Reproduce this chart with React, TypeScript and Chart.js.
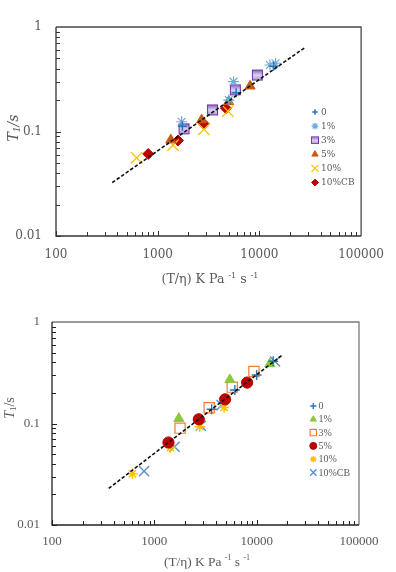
import React, { useEffect, useRef } from 'react';
import { Chart, registerables } from 'chart.js';
import { drawPoint } from 'chart.js/helpers';

Chart.register(...registerables);

const X_TICKS = [100, 1000, 10000, 100000];
const X_TICK_LABELS = ['100', '1000', '10000', '100000'];
const Y_TICKS = [0.01, 0.1, 1];
const Y_TICK_LABELS = ['0.01', '0.1', '1'];
const SERIES_NAMES = ['0', '1%', '3%', '5%', '10%', '10%CB'];

// axis titles: plain / superscript (x) and plain / subscript (y) pieces
const X_TITLE = ['(T/η) K Pa ', '-1', ' s ', '-1'];
const Y_TITLE = ['T', '1', '/s'];

// Upper panel: T1 against T/η
const UP_0 = [[1750, 0.112], [5900, 0.235], [13800, 0.42]];
const UP_1 = [[1720, 0.124], [5000, 0.2], [5570, 0.3], [12700, 0.433], [14400, 0.45]];
const UP_3 = [[1815, 0.106], [3460, 0.161], [5800, 0.25], [9550, 0.347]];
const UP_5 = [[1345, 0.083], [2700, 0.129], [4990, 0.193], [8100, 0.272]];
const UP_10 = [[621, 0.056], [1415, 0.074], [2845, 0.105], [4900, 0.157]];
const UP_10CB = [[807, 0.061], [1585, 0.082], [2845, 0.118], [4690, 0.167]];
const UP_FIT = [[357, 0.0324], [28300, 0.64]];

// Lower panel
const LO_0 = [[3630, 0.138], [6120, 0.214], [10000, 0.3], [14500, 0.41]];
const LO_1 = [[1735, 0.112], [5470, 0.27], [13450, 0.387]];
const LO_3 = [[1785, 0.09], [3435, 0.143], [5770, 0.228], [9400, 0.325]];
const LO_5 = [[1375, 0.065], [2720, 0.11], [4920, 0.173], [8070, 0.253]];
const LO_10 = [[611, 0.032], [1436, 0.058], [2780, 0.093], [4810, 0.144]];
const LO_10CB = [[794, 0.034], [1575, 0.059], [2845, 0.095], [4540, 0.152], [15100, 0.408]];
const LO_FIT = [[358, 0.0229], [17900, 0.475]];

type Marker = { style: any; radius: number; fill: string; stroke: string; width: number };

interface Panel {
  top: number;
  height: number;
  padTop: number;
  padRight: number;
  yAxisWidth: number;
  xAxisHeight: number;
  family: string;
  tickSize: number;
  tickColor: string;
  xTickPad: number;
  yTickPad: number;
  axisColor: string;
  frameColor: string;
  series: number[][][];
  markers: Marker[];
  fit: number[][];
  legend: { x: number; y: number; dy: number; textX: number; size: number; scale: number };
  xTitle: { x: number; y: number; size: number };
  yTitle: { x: number; y: number; size: number; italicAll: boolean };
}

const GRAD_SQUARE = 'gradSquare';

function gradientSquare(side: number) {
  const c = document.createElement('canvas');
  c.width = side + 2;
  c.height = side + 2;
  const g = c.getContext('2d')!;
  const grad = g.createLinearGradient(0, 1, 0, side + 1);
  grad.addColorStop(0, '#7a5bbd');
  grad.addColorStop(0.5, '#dcd2f1');
  grad.addColorStop(1, '#a892d8');
  g.fillStyle = grad;
  g.fillRect(1, 1, side, side);
  g.strokeStyle = '#7030A0';
  g.lineWidth = 1;
  g.strokeRect(1.5, 1.5, side - 1, side - 1);
  return c;
}

const UPPER: Panel = {
  top: 0,
  height: 290,
  padTop: 27,
  padRight: 33,
  yAxisWidth: 56,
  xAxisHeight: 54,
  family: '"DejaVu Serif"',
  tickSize: 12,
  tickColor: '#595959',
  xTickPad: 12,
  yTickPad: 14,
  axisColor: '#333333',
  frameColor: '#4a4a4a',
  series: [UP_0, UP_1, UP_3, UP_5, UP_10, UP_10CB],
  markers: [
    { style: 'cross', radius: 4.5, fill: '#2E75B6', stroke: '#2E75B6', width: 1.5 },
    { style: 'star', radius: 5.5, fill: '#6FA8DC', stroke: '#6FA8DC', width: 1.2 },
    { style: GRAD_SQUARE, radius: 7.5, fill: '#7030A0', stroke: '#7030A0', width: 1 },
    { style: 'triangle', radius: 5.8, fill: '#C55A11', stroke: '#C55A11', width: 1 },
    { style: 'crossRot', radius: 8, fill: '#FFC000', stroke: '#FFC000', width: 1.3 },
    { style: 'rectRot', radius: 5.5, fill: '#C00000', stroke: '#C00000', width: 1 },
  ],
  fit: UP_FIT,
  legend: { x: 315, y: 112, dy: 14.1, textX: 321, size: 9, scale: 0.62 },
  xTitle: { x: 210, y: 282.5, size: 12.6 },
  yTitle: { x: 17.5, y: 128, size: 14, italicAll: true },
};

const LOWER: Panel = {
  top: 290,
  height: 282,
  padTop: 32,
  padRight: 37,
  yAxisWidth: 52,
  xAxisHeight: 47,
  family: '"Liberation Serif"',
  tickSize: 13,
  tickColor: '#595959',
  xTickPad: 9,
  yTickPad: 12,
  axisColor: '#222222',
  frameColor: '#7a7a7a',
  series: [LO_0, LO_1, LO_3, LO_5, LO_10, LO_10CB],
  markers: [
    { style: 'cross', radius: 5, fill: '#2E75B6', stroke: '#2E75B6', width: 1.4 },
    { style: 'triangle', radius: 5.8, fill: '#8DC63F', stroke: '#8DC63F', width: 1 },
    { style: 'rect', radius: 7.2, fill: 'rgba(255,255,255,0)', stroke: '#ED7D31', width: 1.2 },
    { style: 'circle', radius: 5.6, fill: '#C00000', stroke: '#B00000', width: 1 },
    { style: 'star', radius: 5.2, fill: '#FFC000', stroke: '#FFC000', width: 1.4 },
    { style: 'crossRot', radius: 7.2, fill: '#5B8FC9', stroke: '#5B8FC9', width: 1.4 },
  ],
  fit: LO_FIT,
  legend: { x: 313.3, y: 116, dy: 13.3, textX: 318.5, size: 10, scale: 0.62 },
  xTitle: { x: 207, y: 276, size: 13.4 },
  yTitle: { x: 14, y: 118, size: 14, italicAll: false },
};

function minorValues(min: number, max: number) {
  const out: { value: number; major: boolean }[] = [];
  for (let d = min; d < max * 0.999; d *= 10) {
    for (let m = 1; m <= 9; m++) out.push({ value: d * m, major: m === 1 });
  }
  return out;
}

type Seg = { t: string; size: number; italic: boolean; shift: number };

function drawSegs(ctx: CanvasRenderingContext2D, segs: Seg[], family: string, color: string, cx: number, cy: number) {
  const fontOf = (s: Seg) => `${s.italic ? 'italic ' : ''}${s.size}px ${family}`;
  let total = 0;
  for (const s of segs) {
    ctx.font = fontOf(s);
    total += ctx.measureText(s.t).width;
  }
  let x = cx - total / 2;
  ctx.textAlign = 'left';
  ctx.textBaseline = 'alphabetic';
  ctx.fillStyle = color;
  for (const s of segs) {
    ctx.font = fontOf(s);
    ctx.fillText(s.t, x, cy + s.shift);
    x += ctx.measureText(s.t).width;
  }
}

const panelDecor = {
  id: 'panelDecor',
  afterDraw(chart: any, _args: any, opts: any) {
    const p: Panel = opts.panel;
    if (!p) return;
    const { ctx, chartArea: a, scales } = chart;
    const xs = scales.x;
    const ys = scales.y;
    ctx.save();

    // frame: top and right edges, then the two axes
    ctx.lineWidth = 1.3;
    ctx.strokeStyle = p.frameColor;
    ctx.beginPath();
    ctx.moveTo(a.left, a.top);
    ctx.lineTo(a.right, a.top);
    ctx.lineTo(a.right, a.bottom);
    ctx.stroke();
    ctx.strokeStyle = p.axisColor;
    ctx.beginPath();
    ctx.moveTo(a.left, a.top);
    ctx.lineTo(a.left, a.bottom);
    ctx.lineTo(a.right, a.bottom);
    ctx.stroke();

    // inward tick marks on the log axes
    ctx.lineWidth = 1;
    ctx.beginPath();
    for (const t of minorValues(xs.min, xs.max)) {
      const px = Math.round(xs.getPixelForValue(t.value)) + 0.5;
      ctx.moveTo(px, a.bottom);
      ctx.lineTo(px, a.bottom - (t.major ? 5 : 4));
    }
    for (const t of minorValues(ys.min, ys.max)) {
      const py = Math.round(ys.getPixelForValue(t.value)) + 0.5;
      ctx.moveTo(a.left, py);
      ctx.lineTo(a.left + (t.major ? 5 : 4), py);
    }
    ctx.stroke();

    // legend
    const L = p.legend;
    chart.data.datasets.forEach((ds: any) => {
      if (!ds.inLegend) return;
      const y = L.y + ds.legendIndex * L.dy;
      const st = ds.pointStyle;
      ctx.save();
      if (typeof st !== 'string') {
        const s = 9;
        ctx.drawImage(st, L.x - s / 2, y - s / 2, s, s);
      } else {
        ctx.fillStyle = ds.pointBackgroundColor;
        ctx.strokeStyle = ds.pointBorderColor;
        ctx.lineWidth = ds.pointBorderWidth;
        drawPoint(ctx, { pointStyle: st, radius: ds.pointRadius * L.scale, rotation: 0, borderWidth: ds.pointBorderWidth }, L.x, y);
      }
      ctx.restore();
      ctx.font = `${L.size}px ${p.family}`;
      ctx.fillStyle = '#595959';
      ctx.textAlign = 'left';
      ctx.textBaseline = 'middle';
      ctx.fillText(ds.label, L.textX, y + 0.5);
    });

    // x-axis title with superscripts
    const xt = p.xTitle;
    const xsegs: Seg[] = X_TITLE.map((t, i) =>
      i % 2 === 0
        ? { t, size: xt.size, italic: false, shift: 0 }
        : { t, size: Math.round(xt.size * 0.62), italic: false, shift: -Math.round(xt.size * 0.42) }
    );
    drawSegs(ctx, xsegs, p.family, '#595959', xt.x, xt.y);

    // y-axis title with subscript
    const yt = p.yTitle;
    const ysegs: Seg[] = [
      { t: Y_TITLE[0], size: yt.size, italic: true, shift: 0 },
      { t: Y_TITLE[1], size: Math.round(yt.size * 0.62), italic: yt.italicAll, shift: 2 },
      { t: Y_TITLE[2], size: yt.size, italic: yt.italicAll, shift: 0 },
    ];
    ctx.translate(yt.x, yt.y);
    ctx.rotate(-Math.PI / 2);
    drawSegs(ctx, ysegs, p.family, '#595959', 0, 0);

    ctx.restore();
  },
};

function buildConfig(p: Panel): any {
  const square = gradientSquare(11);
  const markerSets = p.series.map((pts, i) => {
    const m = p.markers[i];
    return {
      label: SERIES_NAMES[i],
      data: pts.map(([x, y]) => ({ x, y })),
      pointStyle: m.style === GRAD_SQUARE ? square : m.style,
      pointRadius: m.radius,
      pointHoverRadius: m.radius,
      pointBackgroundColor: m.fill,
      pointBorderColor: m.stroke,
      pointBorderWidth: m.width,
      showLine: false,
      inLegend: true,
      legendIndex: i,
    };
  });
  const fitSet = {
    label: 'fit',
    data: p.fit.map(([x, y]) => ({ x, y })),
    showLine: true,
    borderColor: '#111111',
    borderWidth: 1.6,
    borderDash: [3.5, 2],
    pointRadius: 0,
    pointHoverRadius: 0,
    fill: false,
    inLegend: false,
  };
  const font = { family: p.family, size: p.tickSize };
  return {
    type: 'scatter',
    data: { datasets: [fitSet, ...markerSets] },
    options: {
      responsive: false,
      animation: false,
      events: [],
      layout: { padding: { top: p.padTop, right: p.padRight, left: 0, bottom: 0 } },
      plugins: {
        legend: { display: false },
        tooltip: { enabled: false },
        panelDecor: { panel: p },
      },
      scales: {
        x: {
          type: 'logarithmic',
          min: 100,
          max: 100000,
          grid: { display: false, drawTicks: false },
          border: { display: false },
          afterBuildTicks: (s: any) => {
            s.ticks = X_TICKS.map((value) => ({ value }));
          },
          afterFit: (s: any) => {
            s.height = p.xAxisHeight;
          },
          ticks: {
            autoSkip: false,
            maxRotation: 0,
            padding: p.xTickPad,
            color: p.tickColor,
            font,
            callback: (_v: any, i: number) => X_TICK_LABELS[i],
          },
        },
        y: {
          type: 'logarithmic',
          min: 0.01,
          max: 1,
          grid: { display: false, drawTicks: false },
          border: { display: false },
          afterBuildTicks: (s: any) => {
            s.ticks = Y_TICKS.map((value) => ({ value }));
          },
          afterFit: (s: any) => {
            s.width = p.yAxisWidth;
          },
          ticks: {
            autoSkip: false,
            padding: p.yTickPad,
            color: p.tickColor,
            font,
            callback: (_v: any, i: number) => Y_TICK_LABELS[i],
          },
        },
      },
    },
    plugins: [panelDecor],
  };
}

function PanelChart({ panel }: { panel: Panel }) {
  const ref = useRef<HTMLCanvasElement | null>(null);
  useEffect(() => {
    if (!ref.current) return;
    const chart = new Chart(ref.current, buildConfig(panel));
    return () => chart.destroy();
  }, [panel]);
  return (
    <canvas
      ref={ref}
      width={396}
      height={panel.height}
      style={{ position: 'absolute', left: 0, top: panel.top, width: 396, height: panel.height }}
    />
  );
}

export default function App() {
  return (
    <div style={{ position: 'absolute', left: 0, top: 0, width: 396, height: 572, background: '#ffffff' }}>
      <PanelChart panel={UPPER} />
      <PanelChart panel={LOWER} />
    </div>
  );
}
